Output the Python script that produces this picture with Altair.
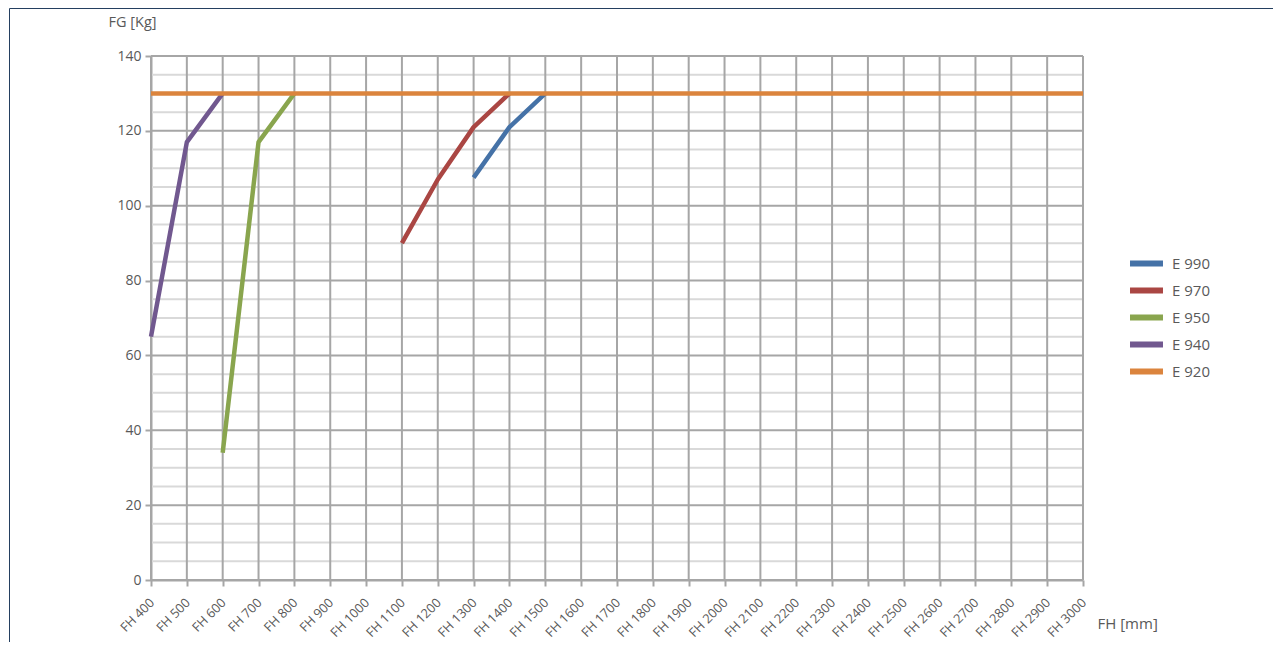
import altair as alt
import pandas as pd

categories = ["FH 400", "FH 500", "FH 600", "FH 700", "FH 800", "FH 900", "FH 1000",
              "FH 1100", "FH 1200", "FH 1300", "FH 1400", "FH 1500", "FH 1600", "FH 1700",
              "FH 1800", "FH 1900", "FH 2000", "FH 2100", "FH 2200", "FH 2300", "FH 2400",
              "FH 2500", "FH 2600", "FH 2700", "FH 2800", "FH 2900", "FH 3000"]

series_names = ["E 990", "E 970", "E 950", "E 940", "E 920"]
series_colors = ["#4572A7", "#AA4643", "#89A54E", "#71588F", "#DB843D"]

e990_fh = ["FH 1300", "FH 1400", "FH 1500"]
e990_fg = [107.5, 121, 130]
e970_fh = ["FH 1100", "FH 1200", "FH 1300", "FH 1400"]
e970_fg = [90, 107, 121, 130]
e950_fh = ["FH 600", "FH 700", "FH 800"]
e950_fg = [34, 117, 130]
e940_fh = ["FH 400", "FH 500", "FH 600"]
e940_fg = [65, 117, 130]
e920_fh = categories
e920_fg = [130, 130, 130, 130, 130, 130, 130, 130, 130, 130, 130, 130, 130, 130,
           130, 130, 130, 130, 130, 130, 130, 130, 130, 130, 130, 130, 130]

major_ticks = [0, 20, 40, 60, 80, 100, 120, 140]
minor_ticks = [5, 10, 15, 25, 30, 35, 45, 50, 55, 65, 70, 75, 85, 90, 95,
               105, 110, 115, 125, 130, 135]

rows = []
for name, xs, ys in [("E 990", e990_fh, e990_fg), ("E 970", e970_fh, e970_fg),
                     ("E 950", e950_fh, e950_fg), ("E 940", e940_fh, e940_fg),
                     ("E 920", e920_fh, e920_fg)]:
    for x, y in zip(xs, ys):
        rows.append({"fh": x, "fg": y, "serie": name})
df = pd.DataFrame(rows)

FONT = "Open Sans"
TXT = "#595959"
MAJOR = "#A6A6A6"
MINOR = "#D9D9D9"

x_enc = alt.X("fh:N", sort=categories,
              scale=alt.Scale(type="point", domain=categories, padding=0),
              axis=alt.Axis(title="FH [mm]", labelAngle=-45, labelFontSize=12.8,
                            labelFont=FONT, labelColor=TXT, labelPadding=10,
                            labelOffset=-3.5,
                            tickSize=6, tickColor=MAJOR, tickWidth=2,
                            domainColor=MAJOR, domainWidth=2, grid=False,
                            titleFont=FONT, titleFontSize=15, titleFontWeight="normal",
                            titleColor=TXT, titleAlign="left", titleBaseline="middle",
                            titleX=946, titleY=43, titleAngle=0))
y_enc = alt.Y("fg:Q",
              scale=alt.Scale(domain=[0, 140], nice=False, zero=True),
              axis=alt.Axis(title="FG [Kg]", values=major_ticks, labelFontSize=14,
                            labelFont=FONT, labelColor=TXT, labelPadding=4,
                            tickSize=6, tickColor=MAJOR, tickWidth=2,
                            domainColor=MAJOR, domainWidth=2, grid=False,
                            titleFont=FONT, titleFontSize=14.5, titleFontWeight="normal",
                            titleColor=TXT, titleAngle=0, titleAlign="center",
                            titleBaseline="middle", titleX=-19, titleY=-34))

minor_layer = alt.Chart(pd.DataFrame({"fg": minor_ticks})).mark_rule(
    color=MINOR, strokeWidth=2).encode(y=y_enc)
vert_layer = alt.Chart(pd.DataFrame({"fh": categories})).mark_rule(
    color=MAJOR, strokeWidth=2).encode(x=x_enc)
major_layer = alt.Chart(pd.DataFrame({"fg": major_ticks})).mark_rule(
    color=MAJOR, strokeWidth=2).encode(y=y_enc)

lines = alt.Chart(df).mark_line(strokeWidth=4.5, strokeJoin="round").encode(
    x=x_enc, y=y_enc,
    color=alt.Color("serie:N", sort=series_names,
                    scale=alt.Scale(domain=series_names, range=series_colors),
                    legend=alt.Legend(orient="none", legendX=984, legendY=196,
                                      title=None, symbolType="M-2,0H2",
                                      symbolSize=272, symbolStrokeWidth=6,
                                      labelFontSize=15, labelFont=FONT,
                                      labelColor=TXT, labelOffset=14,
                                      rowPadding=2, padding=0)),
    order=alt.Order("serie:N", sort="descending"),
)

frame_df = pd.DataFrame({"k": [0]})
frame_v = alt.Chart(frame_df).mark_rule(color="#243F60", strokeWidth=1).encode(
    x=alt.value(-141.5), y=alt.value(-47.5), y2=alt.value(620))
frame_h = alt.Chart(frame_df).mark_rule(color="#243F60", strokeWidth=1).encode(
    x=alt.value(-141.5), x2=alt.value(1300), y=alt.value(-47.5))

chart = alt.layer(minor_layer, vert_layer, major_layer, lines, frame_v, frame_h).properties(
    width=932, height=524,
    padding={"left": 143, "top": 48, "right": 190, "bottom": 62},
    autosize=alt.AutoSizeParams(type="none"),
).configure_view(stroke=None)

chart.save("out.html", embed_options={"renderer": "svg", "actions": False})
